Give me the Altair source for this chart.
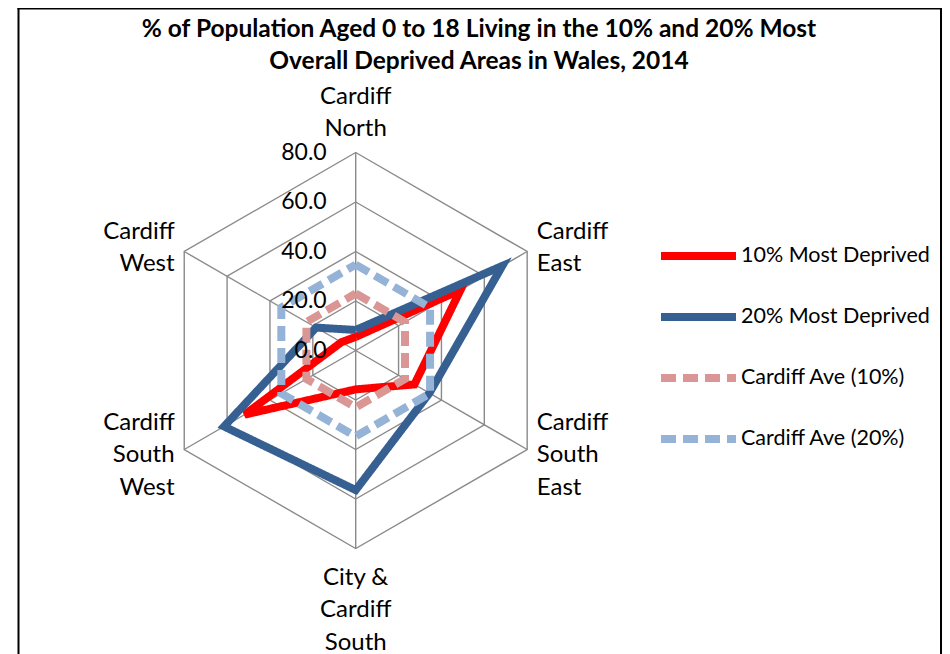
import math
import altair as alt
import pandas as pd

# ---------------- data ----------------
categories = ["Cardiff North", "Cardiff East", "Cardiff South East",
              "City & Cardiff South", "Cardiff South West", "Cardiff West"]
category_lines = [["Cardiff", "North"], ["Cardiff", "East"], ["Cardiff", "South", "East"],
                  ["City &", "Cardiff", "South"], ["Cardiff", "South", "West"], ["Cardiff", "West"]]
series_names = ["10% Most Deprived", "20% Most Deprived", "Cardiff Ave (10%)", "Cardiff Ave (20%)"]
most_deprived_10 = [5.5, 48.9, 27.4, 15.7, 51.8, 6.7]
most_deprived_20 = [8.3, 68.4, 34.4, 56.4, 61.4, 18.5]
cardiff_ave_10 = [23.0, 23.0, 23.0, 23.0, 23.0, 23.0]
cardiff_ave_20 = [34.7, 34.7, 34.7, 34.7, 34.7, 34.7]
ticks = [0, 20, 40, 60, 80]
tick_labels = ["0.0", "20.0", "40.0", "60.0", "80.0"]
title_lines = ["% of Population Aged 0 to 18 Living in the 10% and 20% Most",
               "Overall Deprived Areas in Wales, 2014"]

series_colors = ["#FF0000", "#376092", "#D99694", "#95B3D7"]
series_dashes = [[1, 0], [1, 0], [15, 7], [15, 7]]
series_widths = [8, 8, 5, 5]

# ---------------- layout ----------------
W, H = 934, 646
CX, CY = 347.7, 342.5          # radar centre inside the svg
K = 2.475                      # pixels per unit
xdom = [-CX / K, (W - CX) / K]
ydom = [-(H - CY) / K, CY / K]
FONT = "Lato"
LH = 32.5
n = len(categories)
rmax = max(ticks)
label_r = rmax * 1.056

# ---------------- tables ----------------
rows = []
for name, vals in zip(series_names, [most_deprived_10, most_deprived_20, cardiff_ave_10, cardiff_ave_20]):
    for i in range(n + 1):
        rows.append({"series": name, "idx": i, "value": vals[i % n]})
series_df = pd.DataFrame(rows)

ring_rows = []
for t in ticks[1:]:
    for i in range(n + 1):
        ring_rows.append({"ring": t, "idx": i, "value": t})
ring_df = pd.DataFrame(ring_rows)

spoke_df = pd.DataFrame({"idx": list(range(n)), "value": [rmax] * n})
tick_df = pd.DataFrame({"value": ticks, "label": tick_labels})

sides = []
for i in range(n):
    a = i * 360 / n
    if a == 0:
        sides.append("top")
    elif a == 180:
        sides.append("bottom")
    elif a < 180:
        sides.append("right")
    else:
        sides.append("left")
label_df = pd.DataFrame({"idx": list(range(n)), "name": categories,
                         "lines": category_lines, "side": sides,
                         "nlines": [len(l) for l in category_lines],
                         "value": [label_r] * n})

xs = alt.Scale(domain=xdom, nice=False, zero=False)
ys = alt.Scale(domain=ydom, nice=False, zero=False)


def polar(ch):
    return ch.transform_calculate(
        ang=f"datum.idx * 2 * PI / {n}"
    ).transform_calculate(
        px="datum.value * sin(datum.ang)",
        py="datum.value * cos(datum.ang)",
    )


X = alt.X("px:Q", scale=xs, axis=None)
Y = alt.Y("py:Q", scale=ys, axis=None)
GRID = "#8a8a8a"

spokes = polar(alt.Chart(spoke_df)).transform_calculate(zx="0", zy="0").mark_rule(
    color=GRID, strokeWidth=1.4
).encode(x=alt.X("zx:Q", scale=xs, axis=None), y=alt.Y("zy:Q", scale=ys, axis=None),
         x2="px:Q", y2="py:Q")

rings = polar(alt.Chart(ring_df)).mark_line(color=GRID, strokeWidth=1.4).encode(
    x=X, y=Y, detail="ring:N", order="idx:Q")

lines = polar(alt.Chart(series_df)).mark_line(strokeJoin="miter").encode(
    x=X, y=Y, order="idx:Q",
    color=alt.Color("series:N", title=None,
                    scale=alt.Scale(domain=series_names, range=series_colors)),
    strokeDash=alt.StrokeDash("series:N", title=None,
                              scale=alt.Scale(domain=series_names, range=series_dashes)),
    strokeWidth=alt.StrokeWidth("series:N", title=None,
                                scale=alt.Scale(domain=series_names, range=series_widths)),
)

tick_text = alt.Chart(tick_df).transform_calculate(zx="0").mark_text(
    align="right", baseline="middle", dx=-29, font=FONT, fontSize=23, color="black"
).encode(x=alt.X("zx:Q", scale=xs, axis=None), y=alt.Y("value:Q", scale=ys, axis=None),
         text="label:N")

label_base = polar(alt.Chart(label_df))
label_layers = []
for side, al, bl in [("top", "center", "bottom"), ("bottom", "center", "top"),
                     ("right", "left", "middle"), ("left", "right", "middle")]:
    for nl in sorted(set(len(l) for l in category_lines)):
        if bl == "bottom":
            dy = -(nl - 1) * LH
        elif bl == "middle":
            dy = -(nl - 1) * LH / 2 + (2 if nl == 2 else 0)
        else:
            dy = 6
        label_layers.append(
            label_base.transform_filter(
                (alt.datum.side == side) & (alt.datum.nlines == nl)
            ).mark_text(
                align=al, baseline=bl, dy=dy, font=FONT, fontSize=24, lineHeight=LH,
                color="black"
            ).encode(x=X, y=Y, text="lines:N")
        )

frame = alt.Chart(pd.DataFrame({"k": [0]})).mark_rule(color="black", strokeWidth=2).encode(
    x=alt.value(10.5), y=alt.value(0), y2=alt.value(H))
frame_r = alt.Chart(pd.DataFrame({"k": [0]})).mark_rule(color="black", strokeWidth=2).encode(
    x=alt.value(933), y=alt.value(0), y2=alt.value(H))
frame_t = alt.Chart(pd.DataFrame({"k": [0]})).mark_rule(color="black", strokeWidth=2).encode(
    x=alt.value(9.5), x2=alt.value(934), y=alt.value(0.5))

chart = alt.layer(
    frame, frame_r, frame_t, spokes, rings, lines, tick_text, *label_layers
).properties(
    width=W, height=H,
    autosize=alt.AutoSizeParams(type="none"),
    padding=0,
    title=alt.TitleParams(text=title_lines, font=FONT, fontSize=24.5, fontWeight="bold",
                          color="black", anchor="middle",
                          offset=-67.5, dx=4, lineHeight=32),
).configure_view(stroke=None).configure_legend(
    orient="none", legendX=649, legendY=234, padding=0,
    symbolType="M-1,0H6.5", symbolSize=400, labelOffset=56,
    labelFont=FONT, labelFontSize=21.5, labelColor="black", rowPadding=29,
    labelLimit=400,
)

chart.save("out.html", embed_options={"renderer": "svg", "actions": False})
